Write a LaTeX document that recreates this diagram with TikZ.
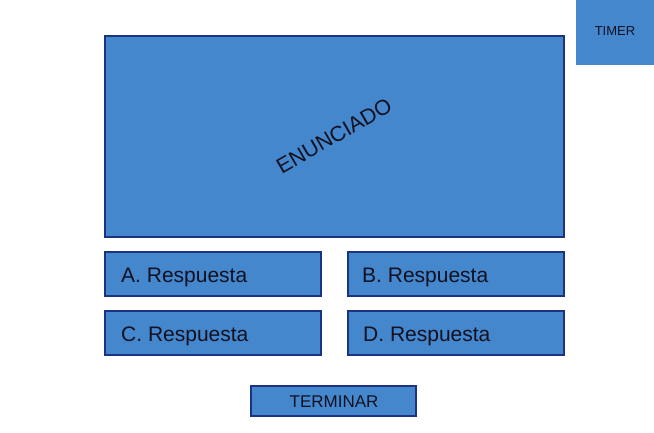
\documentclass[tikz,border=0pt]{standalone}
\usepackage{fontspec}
\setmainfont{Liberation Sans}
\definecolor{boxfill}{HTML}{4487CC}
\definecolor{boxline}{HTML}{1C3282}
\definecolor{txt}{HTML}{111122}
\begin{document}
\begin{tikzpicture}[x=1pt,y=-1pt,
  box/.style={draw=boxline,line width=2pt,fill=boxfill,inner sep=0pt,outer sep=0pt},
  lbl/.style={text=txt,inner sep=0pt},
  ans/.style={lbl,anchor=west,font=\fontsize{21}{24}\selectfont}]
\useasboundingbox (0,0) rectangle (654,432);
\fill[boxfill] (576,0) rectangle (654,65) coordinate (timerbr);
\node[lbl,font=\fontsize{13}{15}\selectfont] (timer) at (615,31.5) {TIMER};
\draw[box] (105,36) rectangle (564,237);
\node[lbl,rotate=30,font=\fontsize{21.5}{24}\selectfont] (enun) at (334,136) {ENUNCIADO};
\draw[box] (105,252) rectangle (321,296);
\node[ans] (a) at (121,277) {A. Respuesta};
\draw[box] (348,252) rectangle (564,296);
\node[ans] (b) at (362,277) {B. Respuesta};
\draw[box] (105,311) rectangle (321,355);
\node[ans] (c) at (121,336) {C. Respuesta};
\draw[box] (348,311) rectangle (564,355);
\node[ans] (d) at (363,336) {D. Respuesta};
\draw[box] (251,386) rectangle (416,416);
\node[lbl,font=\fontsize{17}{20}\selectfont] (term) at (334,401.5) {TERMINAR};
\end{tikzpicture}
\end{document}
